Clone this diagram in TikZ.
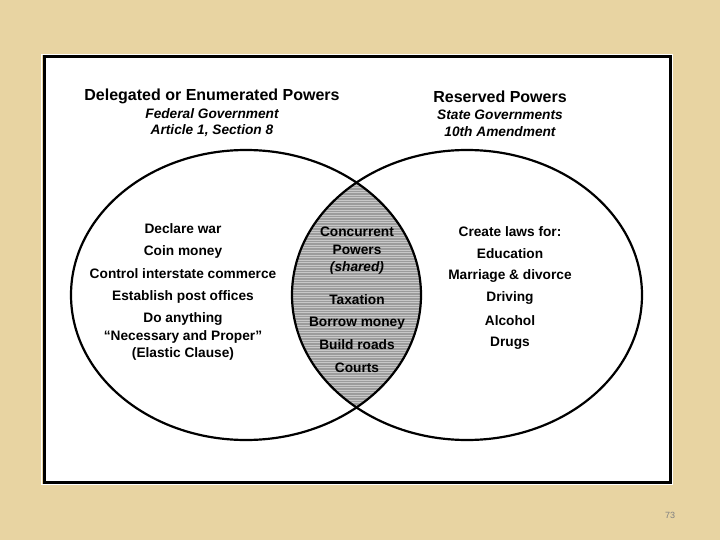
\documentclass[tikz,border=0pt]{standalone}
\usepackage{fontspec}
\setmainfont{Liberation Sans}
\usepackage{tikz}
\definecolor{paper}{HTML}{E8D4A2}
\definecolor{shared}{HTML}{9C9C9C}
\definecolor{hatch}{HTML}{C8C8C8}

\begin{document}
\begin{tikzpicture}[x=1pt,y=-1pt,
    head/.style={font=\bfseries\fontsize{16}{18}\selectfont},
    sub/.style={font=\bfseries\itshape\fontsize{13.7}{15}\selectfont},
    item/.style={font=\bfseries\fontsize{13.7}{15}\selectfont}]
    \fill[paper] (0,0) rectangle (720,540);  %Hintergrund
    \useasboundingbox (0,0) rectangle (720,540);
    \draw[white, line width=1pt] (41.5,54.5) rectangle (672.5,484.5);  %Rand aussen
    \filldraw[fill=white, line width=3pt] (44,57) rectangle (670,482);  %Rahmen
    \begin{scope}  %Schnittmenge
      \clip (246,295) ellipse [x radius=175pt, y radius=145pt];
      \clip (467,295) ellipse [x radius=175pt, y radius=145pt];
      \fill[shared] (285,175) rectangle (430,415);
      \foreach \y in {180,182.5,...,412}
      {
        \draw[hatch, line width=0.6pt] (285,\y) -- (430,\y);
      };
    \end{scope}
    \draw[line width=2.2pt] (246,295) ellipse [x radius=175pt, y radius=145pt];  %links
    \draw[line width=2.2pt] (467,295) ellipse [x radius=175pt, y radius=145pt];  %rechts
    \node[head] (dlg) at (212,96) {Delegated or Enumerated Powers};
    \node[sub] (fed) at (212,114) {Federal Government};
    \node[sub] (art) at (212,131) {Article 1, Section 8};
    \node[head] (res) at (500,97) {Reserved Powers};
    \node[sub] (st) at (500,115) {State Governments};
    \node[sub] (amd) at (500,132) {10th Amendment};
    \foreach \name/\txt/\y in
    {
      war/Declare war/229,
      coin/Coin money/252,
      comm/Control interstate commerce/274,
      post/Establish post offices/297,
      any/Do anything/319,
      nec/``Necessary and Proper''/337,
      ela/(Elastic Clause)/354
    }
    {
      \node[item] (\name) at (183,\y) {\txt};
    };
    \foreach \name/\txt/\y in
    {
      conc/Concurrent/232,
      pow/Powers/250,
      shr/\textit{(shared)}/268,
      tax/Taxation/300,
      bor/Borrow money/323,
      rds/Build roads/345,
      crt/Courts/368
    }
    {
      \node[item] (\name) at (357,\y) {\txt};
    };
    \foreach \name/\txt/\y in
    {
      laws/Create laws for:/232,
      edu/Education/254,
      mar/Marriage \& divorce/276,
      drv/Driving/298,
      alc/Alcohol/321,
      drg/Drugs/343
    }
    {
      \node[item] (\name) at (510,\y) {\txt};
    };
    \node[text=gray, font=\fontsize{9}{10}\selectfont] (page) at (670,515) {73};
\end{tikzpicture}
\end{document}
